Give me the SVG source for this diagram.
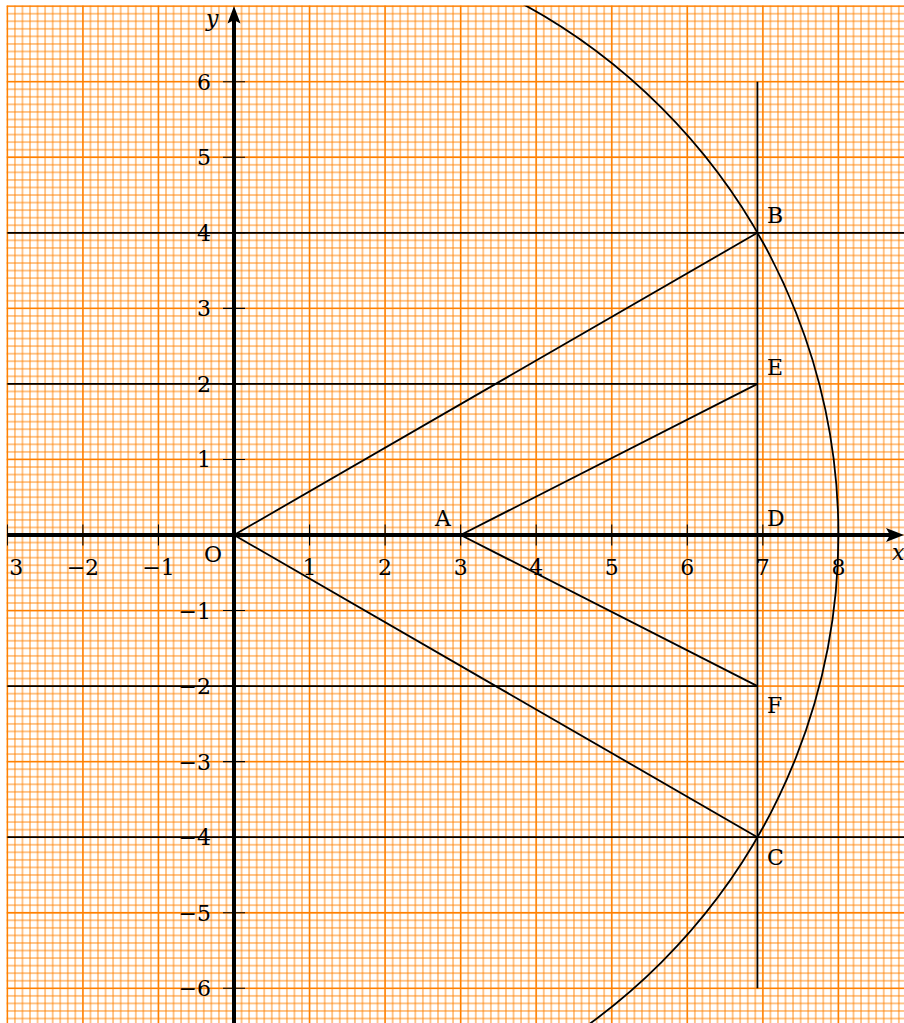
<svg xmlns="http://www.w3.org/2000/svg" width="904" height="1023" viewBox="0 0 904 1023">
<style>
.lbl{font-family:"DejaVu Serif","Liberation Serif",serif;font-size:22px;fill:#000}
.xl{text-anchor:middle}
.yl{text-anchor:end}
.it{font-style:italic}
.thin{stroke:#000;stroke-width:1.8;fill:none}
.axis{stroke:#000;stroke-width:4;fill:none}
.tick{stroke:#000;stroke-width:1.1}
.major{stroke:#ff8000;stroke-width:1.3}
</style>
<defs>
<pattern id="fine" patternUnits="userSpaceOnUse" x="230.2225" y="531.2225" width="7.555" height="7.555">
<path d="M3.7775 0V7.555M0 3.7775H7.555" stroke="#ff8000" stroke-width="0.9" fill="none"/>
</pattern>
<clipPath id="frame"><rect x="6.9" y="5.7" width="898" height="1018"/></clipPath>
</defs>
<rect width="904" height="1023" fill="#fff"/>
<g id="grid">
<rect x="6.5" y="5.5" width="898" height="1018" fill="url(#fine)"/>
<g class="major">
<path d="M7.35 5.7V1023M82.9 5.7V1023M158.45 5.7V1023M309.55 5.7V1023M385.1 5.7V1023M460.65 5.7V1023M536.2 5.7V1023M611.75 5.7V1023M687.3 5.7V1023M762.85 5.7V1023M838.4 5.7V1023"/>
<path d="M6.9 6.15H904M6.9 81.7H904M6.9 157.25H904M6.9 308.35H904M6.9 459.45H904M6.9 610.55H904M6.9 761.65H904M6.9 912.75H904M6.9 988.3H904M6.9 232.8H904M6.9 383.9H904M6.9 686.1H904M6.9 837.2H904"/>
</g>
</g>
<g id="connectors" clip-path="url(#frame)">
<circle class="thin" cx="234" cy="535" r="604.4"/>
<path class="thin" d="M7.35 232.8H904"/>
<path class="thin" d="M7.35 837.2H904"/>
<path class="thin" d="M7.35 383.9H757.43"/>
<path class="thin" d="M7.35 686.1H757.43"/>
<path class="thin" d="M757.43 81.7V988.3"/>
<path class="thin" d="M234 535L757.43 232.8"/>
<path class="thin" d="M234 535L757.43 837.2"/>
<path class="thin" d="M460.65 535L757.43 383.9"/>
<path class="thin" d="M460.65 535L757.43 686.1"/>
</g>
<g id="axes" clip-path="url(#frame)">
<path class="axis" d="M7.35 535H892"/>
<path d="M904 535L886 528L890 535L886 542Z" fill="#000"/>
<path class="axis" d="M234 1023V18"/>
<path d="M234 6L240.5 23.5L234 20L227.5 23.5Z" fill="#000"/>
<path class="tick" d="M7.35 524.5V545.5M82.9 524.5V545.5M158.45 524.5V545.5M309.55 524.5V545.5M385.1 524.5V545.5M460.65 524.5V545.5M536.2 524.5V545.5M611.75 524.5V545.5M687.3 524.5V545.5M762.85 524.5V545.5M838.4 524.5V545.5"/>
<path class="tick" d="M223 81.7H245M223 157.25H245M223 232.8H245M223 308.35H245M223 383.9H245M223 459.45H245M223 610.55H245M223 686.1H245M223 761.65H245M223 837.2H245M223 912.75H245M223 988.3H245"/>
</g>
<g id="xlabels" class="lbl xl">
<text x="16.3" y="575">3</text>
<text x="82.9" y="575">−2</text>
<text x="158.45" y="575">−1</text>
<text x="309.55" y="575">1</text>
<text x="385.1" y="575">2</text>
<text x="460.65" y="575">3</text>
<text x="536.2" y="575">4</text>
<text x="611.75" y="575">5</text>
<text x="687.3" y="575">6</text>
<text x="762.85" y="575">7</text>
<text x="838.4" y="575">8</text>
</g>
<g id="ylabels" class="lbl yl">
<text x="211" y="89.7">6</text>
<text x="211" y="165.25">5</text>
<text x="211" y="240.8">4</text>
<text x="211" y="316.35">3</text>
<text x="211" y="391.9">2</text>
<text x="211" y="467.45">1</text>
<text x="211" y="618.55">−1</text>
<text x="211" y="694.1">−2</text>
<text x="211" y="769.65">−3</text>
<text x="211" y="845.2">−4</text>
<text x="211" y="920.75">−5</text>
<text x="211" y="996.3">−6</text>
</g>
<g id="axis-names" class="lbl it">
<text x="206" y="26">y</text>
<text x="892" y="560">x</text>
</g>
<g id="node-O" class="lbl"><text x="204" y="562">O</text></g>
<g id="node-A" class="lbl"><text x="435" y="526">A</text></g>
<g id="node-B" class="lbl"><text x="767" y="223">B</text></g>
<g id="node-E" class="lbl"><text x="767" y="375">E</text></g>
<g id="node-D" class="lbl"><text x="767" y="526">D</text></g>
<g id="node-F" class="lbl"><text x="767" y="713">F</text></g>
<g id="node-C" class="lbl"><text x="767" y="865">C</text></g>
</svg>
